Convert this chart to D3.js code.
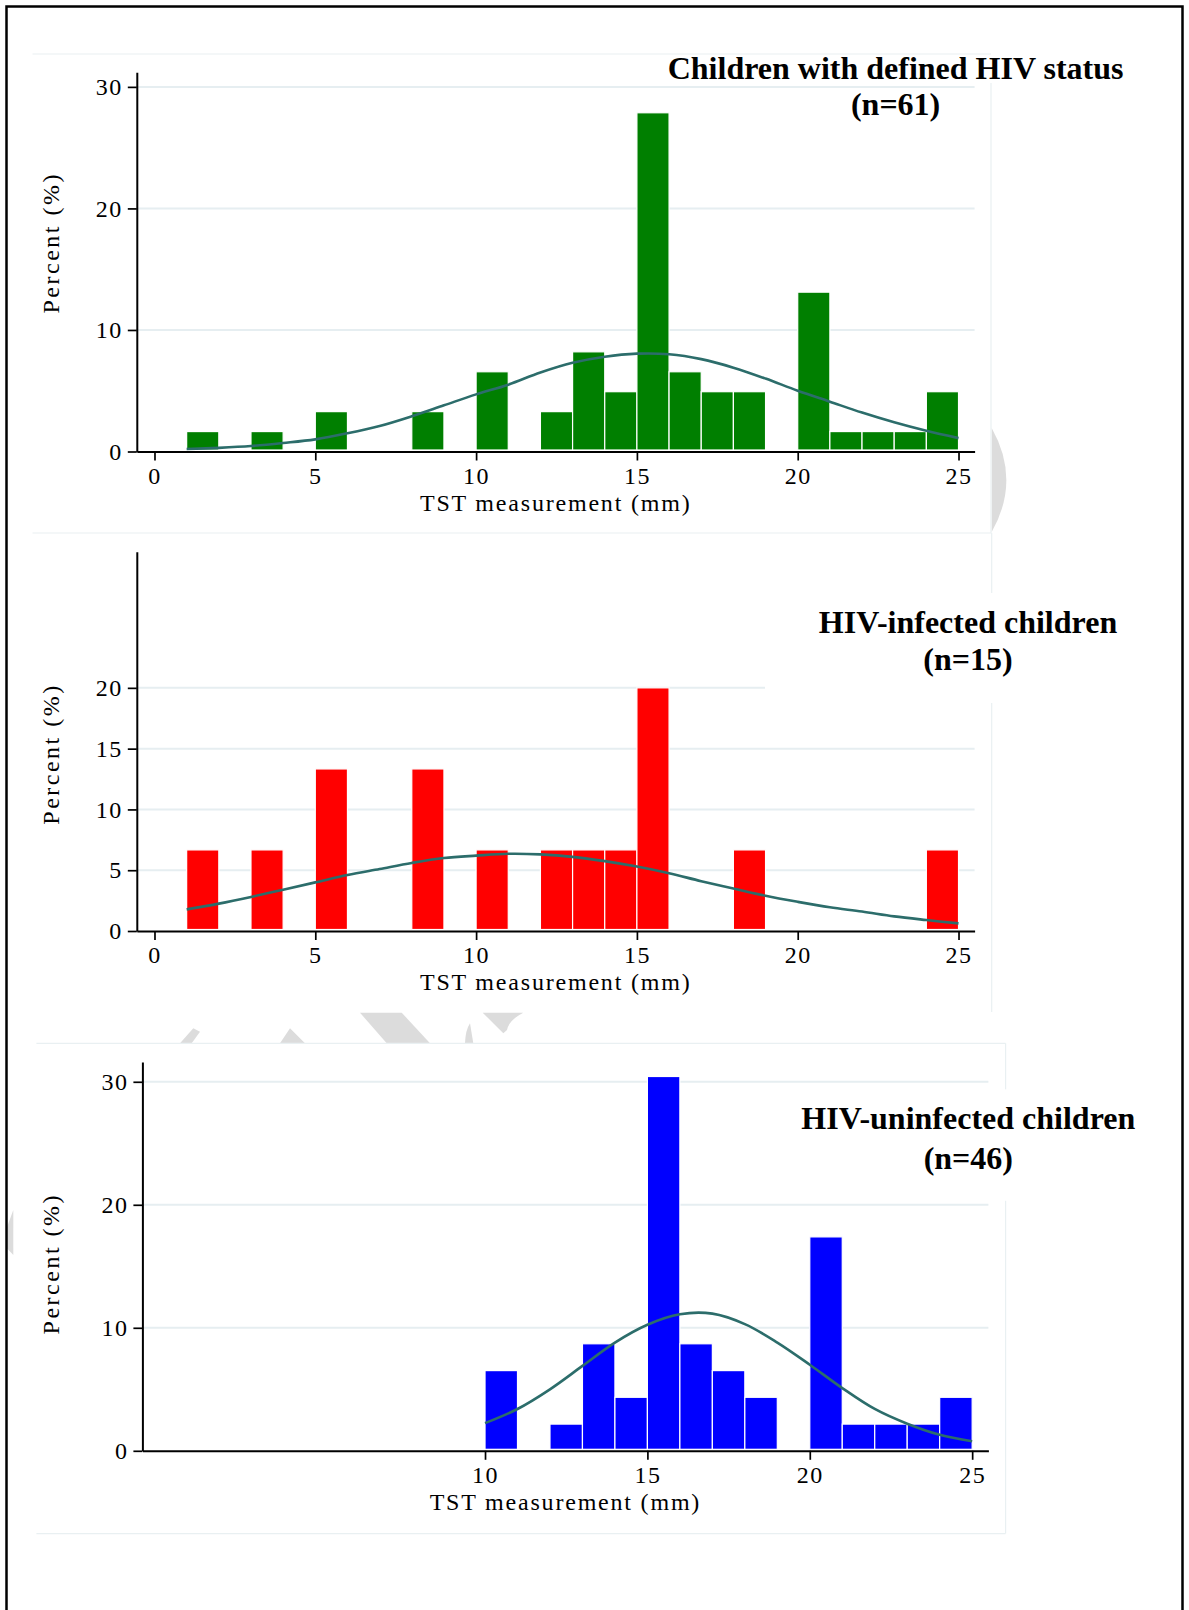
<!DOCTYPE html>
<html>
<head>
<meta charset="utf-8">
<script src="https://cdn.jsdelivr.net/npm/d3@7"></script>
<style>
  body { margin: 0; background: #fff; }
  svg { display: block; }
</style>
</head>
<body>
<div id="chart"></div>
<script>
// TST histograms, percent per 1 mm bin
var xTicksAll = [0, 5, 10, 15, 20, 25];
var xTicksUninf = [10, 15, 20, 25];

var allBins = [1, 3, 5, 8, 10, 12, 13, 14, 15, 16, 17, 18, 20, 21, 22, 23, 24];
var allPct = [1.64, 1.64, 3.28, 3.28, 6.56, 3.28, 8.20, 4.92, 27.87, 6.56, 4.92, 4.92, 13.11, 1.64, 1.64, 1.64, 4.92];
var allCurveX = [1, 2, 3, 4, 5, 6, 7, 8, 9, 10, 11, 12, 13, 14, 15, 16, 17, 18, 19, 20, 21, 22, 23, 24, 25];
var allCurveY = [0.2, 0.3, 0.45, 0.7, 1.0, 1.5, 2.1, 2.9, 3.8, 4.7, 5.5, 6.5, 7.3, 7.8, 8.05, 8.0, 7.6, 6.9, 6.0, 5.0, 4.1, 3.2, 2.4, 1.7, 1.1];

var infBins = [1, 3, 5, 8, 10, 12, 13, 14, 15, 18, 24];
var infPct = [6.67, 6.67, 13.33, 13.33, 6.67, 6.67, 6.67, 6.67, 20.0, 6.67, 6.67];
var infCurveX = [1, 2, 3, 4, 5, 6, 7, 8, 9, 10, 11, 12, 13, 14, 15, 16, 17, 18, 19, 20, 21, 22, 23, 24, 25];
var infCurveY = [1.78, 2.25, 2.8, 3.4, 4.0, 4.6, 5.1, 5.6, 6.0, 6.2, 6.35, 6.3, 6.1, 5.75, 5.3, 4.75, 4.1, 3.5, 2.9, 2.4, 1.95, 1.6, 1.2, 0.9, 0.63];

var uninfBins = [10, 12, 13, 14, 15, 16, 17, 18, 20, 21, 22, 23, 24];
var uninfPct = [6.52, 2.17, 8.70, 4.35, 30.43, 8.70, 6.52, 4.35, 17.39, 2.17, 2.17, 2.17, 4.35];
var uninfCurveX = [10, 11, 12, 13, 14, 15, 16, 17, 18, 19, 20, 21, 22, 23, 24, 25];
var uninfCurveY = [2.25, 3.4, 5.0, 6.9, 8.8, 10.25, 11.1, 11.15, 10.3, 8.8, 7.0, 5.1, 3.4, 2.2, 1.3, 0.78];

var serif = "'Liberation Serif', 'Times New Roman', serif";
var W = 1189, H = 1610;
var xDomain = [-0.55, 25.5];

var svg = d3.select('#chart').append('svg')
    .attr('width', W)
    .attr('height', H)
    .style('background', '#fff');

// faint watermark pieces that show between the graph regions
var wm = svg.append('g').attr('fill', '#dcdcdc');
wm.append('path').attr('d', 'M991.7,428 Q1021,480 991.7,532 Z');
wm.append('path').attr('d', 'M193.3,1028.3 L200,1031.7 L191.7,1043.3 L180,1043.3 Z');
wm.append('path').attr('d', 'M290,1028.3 L305,1043.3 L280,1043.3 Z');
wm.append('path').attr('d', 'M360,1012.7 L401.7,1012.7 L430,1043.3 L386.7,1043.3 Z');
wm.append('path').attr('d', 'M465,1043.3 Q465.5,1030 470,1023.3 L473.3,1043.3 Z');
wm.append('path').attr('d', 'M482.7,1012.7 L523.3,1012.7 Q509,1020 507,1030 L503.3,1033.3 Z');
wm.append('path').attr('d', 'M6.7,1228 L13.3,1210 L13.3,1255 L6.7,1248 Z');

var panels = [
    {
        bins: allBins, pct: allPct, cx: allCurveX, cy: allCurveY,
        fill: '#007f00', xTicks: xTicksAll, yTicks: [0, 10, 20, 30], grid: [10, 20, 30],
        xRange: [136.8, 974.6], yRange: [451.5, 72.3], yTop: 31.2,
        frame: [[32.5, 54, 991, 54], [991, 83, 991, 533], [32.5, 533, 991, 533]],
        box: null,
        title: ['Children with defined HIV status', '(n=61)'], titleX: 895.6, titleY: [78.5, 115.4],
        ylabY: 242.8
    },
    {
        bins: infBins, pct: infPct, cx: infCurveX, cy: infCurveY,
        fill: '#ff0000', xTicks: xTicksAll, yTicks: [0, 5, 10, 15, 20], grid: [5, 10, 15, 20],
        xRange: [136.8, 974.6], yRange: [931, 551.7], yTop: 31.2,
        frame: [[991.7, 533, 991.7, 593], [991.7, 703, 991.7, 1012]],
        box: [765, 593, 400, 110],
        title: ['HIV-infected children', '(n=15)'], titleX: 968, titleY: [633.3, 670],
        ylabY: 754
    },
    {
        bins: uninfBins, pct: uninfPct, cx: uninfCurveX, cy: uninfCurveY,
        fill: '#0000ff', xTicks: xTicksUninf, yTicks: [0, 10, 20, 30], grid: [10, 20, 30],
        xRange: [142.4, 988.4], yRange: [1450.8, 1062.1], yTop: 31.6,
        frame: [[36.4, 1043.3, 1005.6, 1043.3], [1005.6, 1043.3, 1005.6, 1089.6],
                [1005.6, 1200.6, 1005.6, 1533.6], [36.4, 1533.6, 1005.6, 1533.6]],
        box: [790, 1089.6, 380, 111],
        title: ['HIV-uninfected children', '(n=46)'], titleX: 968.3, titleY: [1129, 1169],
        ylabY: 1263.7
    }
];

var drawPanel = function(p) {
    var g = svg.append('g');
    var x = d3.scaleLinear().domain(xDomain).range(p.xRange);
    var y = d3.scaleLinear().domain([0, p.yTop]).range(p.yRange);

    // graph region edges
    g.selectAll('line.frame')
        .data(p.frame)
        .enter()
        .append('line')
        .attr('class', 'frame')
        .attr('x1', function(d) { return d[0]; })
        .attr('y1', function(d) { return d[1]; })
        .attr('x2', function(d) { return d[2]; })
        .attr('y2', function(d) { return d[3]; })
        .attr('stroke', '#e9f0f2')
        .attr('stroke-width', 1.2);

    // grid lines
    g.selectAll('line.grid')
        .data(p.grid)
        .enter()
        .append('line')
        .attr('class', 'grid')
        .attr('x1', p.xRange[0])
        .attr('x2', p.xRange[1])
        .attr('y1', function(d) { return y(d); })
        .attr('y2', function(d) { return y(d); })
        .attr('stroke', '#e6eef1')
        .attr('stroke-width', 2);

    // white box behind the title
    if (p.box) {
        g.append('rect')
            .attr('x', p.box[0]).attr('y', p.box[1])
            .attr('width', p.box[2]).attr('height', p.box[3])
            .attr('fill', '#fff');
    }

    // bars
    g.selectAll('rect.bar')
        .data(p.bins.map(function(b, i) { return {lo: b, v: p.pct[i]}; }))
        .enter()
        .append('rect')
        .attr('class', 'bar')
        .attr('x', function(d) { return x(d.lo); })
        .attr('width', function(d) { return x(d.lo + 1) - x(d.lo); })
        .attr('y', function(d) { return y(d.v); })
        .attr('height', function(d) { return y(0) - y(d.v) - 1.5; })
        .attr('fill', p.fill)
        .attr('stroke', '#fff')
        .attr('stroke-width', 1.2);

    // normal density overlay
    var line = d3.line()
        .x(function(d) { return x(d[0]); })
        .y(function(d) { return y(d[1]); })
        .curve(d3.curveCatmullRom);
    g.append('path')
        .datum(p.cx.map(function(v, i) { return [v, p.cy[i]]; }))
        .attr('d', line)
        .attr('fill', 'none')
        .attr('stroke', '#2c6d6b')
        .attr('stroke-width', 2.6);

    // axes
    var yAxis = g.append('g')
        .attr('transform', 'translate(' + p.xRange[0] + ',0)')
        .call(d3.axisLeft(y).tickValues(p.yTicks).tickSize(9).tickSizeOuter(0).tickPadding(5));
    var xAxis = g.append('g')
        .attr('transform', 'translate(0,' + y(0) + ')')
        .call(d3.axisBottom(x).tickValues(p.xTicks).tickSize(9).tickSizeOuter(0).tickPadding(6));

    [yAxis, xAxis].forEach(function(a) {
        a.attr('font-family', null).attr('font-size', null);
        a.select('.domain').attr('stroke', '#000').attr('stroke-width', 2);
        a.selectAll('.tick line').attr('stroke', '#000').attr('stroke-width', 1.7);
        a.selectAll('.tick text')
            .attr('fill', '#000')
            .style('font-family', serif)
            .style('font-size', '24px')
            .style('letter-spacing', '1.5px');
    });
    xAxis.selectAll('.tick text').attr('y', 32).attr('dy', null);

    // axis titles
    g.append('text')
        .attr('x', (p.xRange[0] + p.xRange[1]) / 2)
        .attr('y', y(0) + 59)
        .attr('text-anchor', 'middle')
        .style('font-family', serif)
        .style('font-size', '24px')
        .style('letter-spacing', '1.8px')
        .text('TST measurement (mm)');

    g.append('text')
        .attr('transform', 'translate(59,' + p.ylabY + ') rotate(-90)')
        .attr('text-anchor', 'middle')
        .style('font-family', serif)
        .style('font-size', '24px')
        .style('letter-spacing', '2.5px')
        .text('Percent (%)');

    // panel title
    g.selectAll('text.title')
        .data(p.title)
        .enter()
        .append('text')
        .attr('class', 'title')
        .attr('x', p.titleX)
        .attr('y', function(d, i) { return p.titleY[i]; })
        .attr('text-anchor', 'middle')
        .style('font-family', serif)
        .style('font-weight', 'bold')
        .style('font-size', '32px')
        .text(function(d) { return d; });
};

panels.forEach(drawPanel);

// outer frame (no bottom edge visible), drawn last so nothing covers it
svg.append('path')
    .attr('d', 'M6.5,1615 V6.5 H1182.5 V1615')
    .attr('fill', 'none')
    .attr('stroke', '#000')
    .attr('stroke-width', 2.5);
</script>
</body>
</html>
